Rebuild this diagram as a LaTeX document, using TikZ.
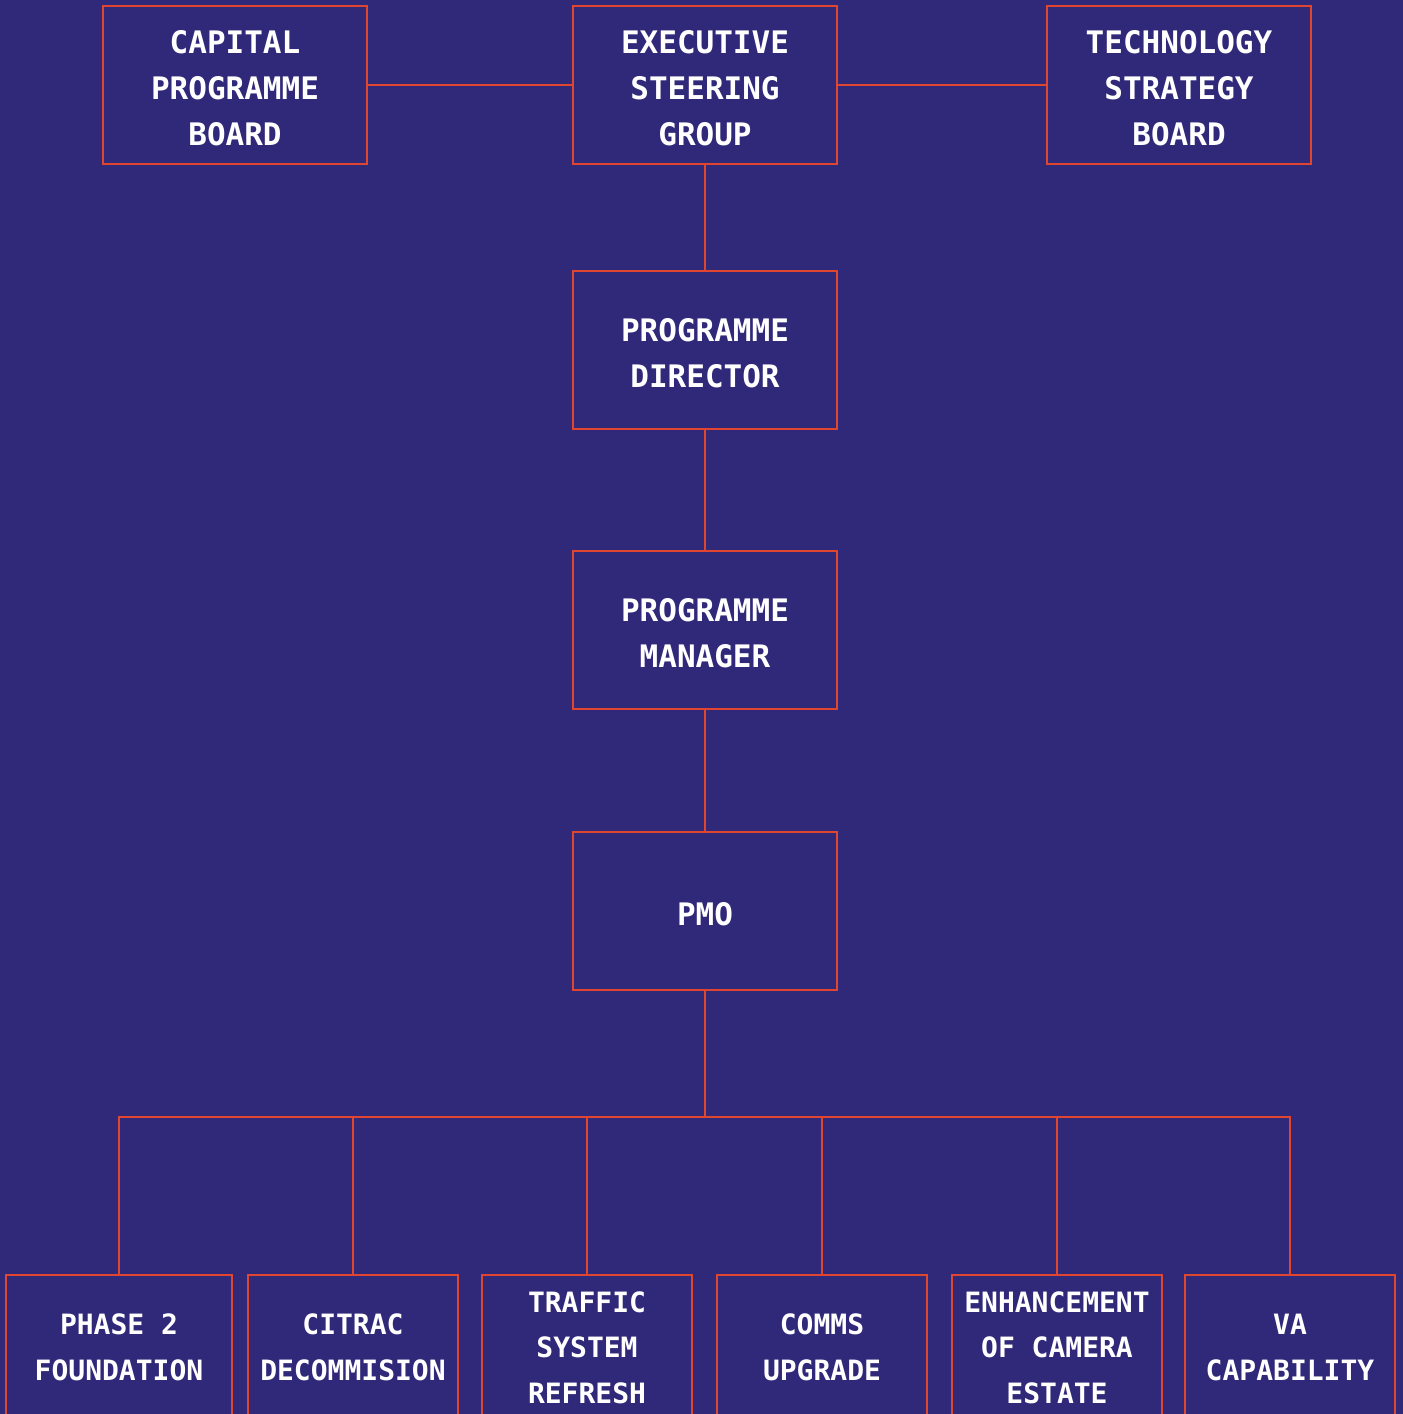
\documentclass[tikz,border=0pt]{standalone}
\usepackage{fontspec}
\newfontfamily\boxfont{DejaVu Sans Mono}
\definecolor{bg}{HTML}{30297A}
\definecolor{edge}{HTML}{E0452F}
\begin{document}
\begin{tikzpicture}[x=1pt,y=-1pt,
  box/.style={draw=edge,line width=1.4pt,fill=bg,inner sep=0pt},
  txt/.style={text=white,align=center,inner sep=0pt,font=\boxfont\bfseries\fontsize{31}{46}\selectfont},
  lowtxt/.style={txt,font=\boxfont\bfseries\fontsize{28}{45.5}\selectfont},
  topbox/.style={box,minimum width=264pt,minimum height=158pt},
  lowbox/.style={box,minimum width=210pt,minimum height=145pt},
  link/.style={draw=edge,line width=1.4pt}]
\fill[bg] (0,0) rectangle (1403,1414);
\useasboundingbox (0,0) rectangle (1403,1414);
\begin{scope}
\clip (0,0) rectangle (1403,1414);
\node[topbox,label={[txt,yshift=-3pt]center:CAPITAL\\PROGRAMME\\BOARD}] (cap) at (235,85) {};
\node[topbox,label={[txt,yshift=-3pt]center:EXECUTIVE\\STEERING\\GROUP}] (esg) at (705,85) {};
\node[topbox,label={[txt,yshift=-3pt]center:TECHNOLOGY\\STRATEGY\\BOARD}] (tsb) at (1179,85) {};
\node[topbox,label={[txt,yshift=-3pt]center:PROGRAMME\\DIRECTOR}] (pd) at (705,350) {};
\node[topbox,label={[txt,yshift=-3pt]center:PROGRAMME\\MANAGER}] (pm) at (705,630) {};
\node[topbox,label={[txt,yshift=-3pt]center:PMO}] (pmo) at (705,911) {};
\node[lowbox,minimum width=226pt,label={[lowtxt]center:PHASE 2\\FOUNDATION}] (b1) at (119,1347.5) {};
\node[lowbox,label={[lowtxt]center:CITRAC\\DECOMMISION}] (b2) at (353,1347.5) {};
\node[lowbox,label={[lowtxt]center:TRAFFIC\\SYSTEM\\REFRESH}] (b3) at (587,1347.5) {};
\node[lowbox,label={[lowtxt]center:COMMS\\UPGRADE}] (b4) at (822,1347.5) {};
\node[lowbox,label={[lowtxt]center:ENHANCEMENT\\OF CAMERA\\ESTATE}] (b5) at (1057,1347.5) {};
\node[lowbox,label={[lowtxt]center:VA\\CAPABILITY}] (b6) at (1290,1347.5) {};
\coordinate (bus) at (705,1117);
\draw[link] (cap) -- (esg);
\draw[link] (esg) -- (tsb);
\draw[link] (esg) -- (pd);
\draw[link] (pd) -- (pm);
\draw[link] (pm) -- (pmo);
\draw[link] (pmo) -- (bus);
\draw[link] (bus) -| (b1.north);
\draw[link] (bus) -| (b2.north);
\draw[link] (bus) -| (b3.north);
\draw[link] (bus) -| (b4.north);
\draw[link] (bus) -| (b5.north);
\draw[link] (bus) -| (b6.north);
\end{scope}
\end{tikzpicture}
\end{document}
